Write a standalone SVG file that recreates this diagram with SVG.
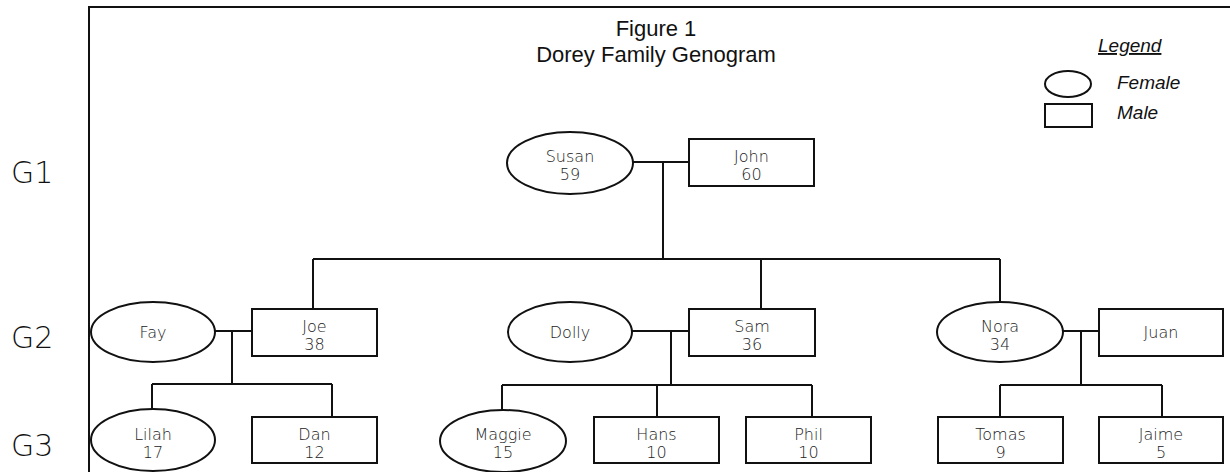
<svg xmlns="http://www.w3.org/2000/svg" width="1230" height="472" viewBox="0 0 1230 472">
<style>
.ln{stroke:#111;stroke-width:2;fill:none}
.nd{stroke:#111;stroke-width:2;fill:#fff}
.nt{font-family:"DejaVu Sans",sans-serif;font-weight:200;font-size:16px;fill:#222;text-anchor:middle}
.gl{font-family:"DejaVu Sans",sans-serif;font-weight:200;font-size:30px;fill:#111}
.tt{font-family:"Liberation Sans",Arial,sans-serif;font-size:22px;fill:#111;text-anchor:middle}
.lg{font-family:"Liberation Sans",Arial,sans-serif;font-style:italic;font-size:19px;fill:#111}
</style>
<rect width="1230" height="472" fill="#fff"/>
<g id="frame">
<path class="ln" d="M89,472 V7 H1230"/>
</g>
<g id="title">
<text class="tt" x="656" y="36">Figure 1</text>
<text class="tt" x="656" y="62">Dorey Family Genogram</text>
</g>
<g id="legend">
<text class="lg" x="1098" y="52" text-decoration="underline">Legend</text>
<ellipse class="nd" cx="1068" cy="84" rx="23" ry="13"/>
<text class="lg" x="1117" y="89">Female</text>
<rect class="nd" x="1045" y="104" width="47" height="23"/>
<text class="lg" x="1117" y="119">Male</text>
</g>
<g id="generations">
<text class="gl" x="11" y="183">G1</text>
<text class="gl" x="11" y="348">G2</text>
<text class="gl" x="11" y="456">G3</text>
</g>
<g id="connectors">
<path class="ln" d="M633,162 H689 M663,162 V259 M313,259 H1000 M313,259 V309 M761,259 V309 M1000,259 V302"/>
<path class="ln" d="M215,331 H252 M232,331 V384 M152,384 H332 M152,384 V409 M332,384 V417"/>
<path class="ln" d="M632,331 H689 M671,331 V385 M502,385 H812 M502,385 V410 M657,385 V417 M812,385 V417"/>
<path class="ln" d="M1063,331 H1099 M1081,331 V385 M1000,385 H1162 M1000,385 V417 M1162,385 V417"/>
</g>
<g id="susan"><ellipse class="nd" cx="570" cy="163" rx="63" ry="31"/><text class="nt" x="570" y="162">Susan</text><text class="nt" x="570" y="180">59</text></g>
<g id="john"><rect class="nd" x="689" y="139" width="125" height="47"/><text class="nt" x="751.5" y="162">John</text><text class="nt" x="751.5" y="180">60</text></g>
<g id="fay"><ellipse class="nd" cx="153" cy="332" rx="62" ry="30"/><text class="nt" x="153" y="338">Fay</text></g>
<g id="joe"><rect class="nd" x="252" y="309" width="125" height="47"/><text class="nt" x="314.5" y="332">Joe</text><text class="nt" x="314.5" y="350">38</text></g>
<g id="dolly"><ellipse class="nd" cx="570" cy="332" rx="62" ry="30"/><text class="nt" x="570" y="338">Dolly</text></g>
<g id="sam"><rect class="nd" x="689" y="309" width="126" height="47"/><text class="nt" x="752" y="332">Sam</text><text class="nt" x="752" y="350">36</text></g>
<g id="nora"><ellipse class="nd" cx="1000" cy="332" rx="63" ry="30"/><text class="nt" x="1000" y="332">Nora</text><text class="nt" x="1000" y="350">34</text></g>
<g id="juan"><rect class="nd" x="1099" y="309" width="124" height="47"/><text class="nt" x="1161" y="338">Juan</text></g>
<g id="lilah"><ellipse class="nd" cx="153" cy="440" rx="62" ry="31"/><text class="nt" x="153" y="440">Lilah</text><text class="nt" x="153" y="458">17</text></g>
<g id="dan"><rect class="nd" x="252" y="417" width="125" height="46"/><text class="nt" x="314.5" y="440">Dan</text><text class="nt" x="314.5" y="458">12</text></g>
<g id="maggie"><ellipse class="nd" cx="503" cy="441" rx="63" ry="31"/><text class="nt" x="503" y="440">Maggie</text><text class="nt" x="503" y="458">15</text></g>
<g id="hans"><rect class="nd" x="594" y="417" width="125" height="46"/><text class="nt" x="656.5" y="440">Hans</text><text class="nt" x="656.5" y="458">10</text></g>
<g id="phil"><rect class="nd" x="746" y="417" width="125" height="46"/><text class="nt" x="808.5" y="440">Phil</text><text class="nt" x="808.5" y="458">10</text></g>
<g id="tomas"><rect class="nd" x="938" y="417" width="125" height="46"/><text class="nt" x="1000.5" y="440">Tomas</text><text class="nt" x="1000.5" y="458">9</text></g>
<g id="jaime"><rect class="nd" x="1099" y="417" width="124" height="46"/><text class="nt" x="1161" y="440">Jaime</text><text class="nt" x="1161" y="458">5</text></g>
</svg>
